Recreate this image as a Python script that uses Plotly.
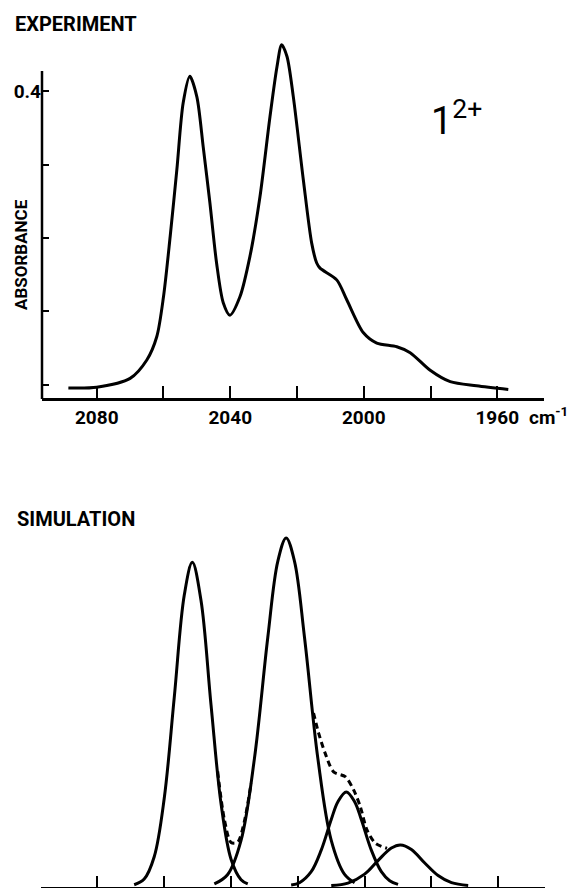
import plotly.graph_objects as go

# ---------------- data ----------------
# Experiment: wavenumber (cm^-1) and absorbance
exp_wn = [2088.5, 2080.0, 2070.0, 2065.0, 2062.0, 2060.0, 2058.0, 2056.0, 2054.1, 2052.1,
          2050.0, 2048.1, 2046.1, 2044.1, 2042.1, 2040.1, 2037.1, 2034.1, 2031.1, 2028.1,
          2026.0, 2024.6, 2023.0, 2021.1, 2018.1, 2015.6, 2014.1, 2013.1, 2008.1, 2005.1,
          2000.1, 1996.1, 1990.1, 1986.1, 1980.1, 1974.1, 1966.2, 1956.7]
exp_abs = [-0.004, -0.003, 0.009, 0.034, 0.066, 0.120, 0.202, 0.293, 0.384, 0.420,
           0.392, 0.324, 0.248, 0.166, 0.112, 0.095, 0.120, 0.175, 0.256, 0.365,
           0.433, 0.463, 0.447, 0.392, 0.279, 0.193, 0.166, 0.159, 0.143, 0.116,
           0.071, 0.057, 0.052, 0.044, 0.020, 0.0045, -0.001, -0.006]

# Simulation components (relative intensity)
sim1_wn = [2069, 2066, 2063, 2060, 2057, 2054, 2051.6, 2049, 2046, 2043, 2040, 2037, 2035]
sim1_int = [0.0034, 0.020, 0.084, 0.252, 0.542, 0.836, 0.930, 0.821, 0.521, 0.237, 0.077, 0.018, 0.0057]

sim2_wn = [2045, 2041, 2037, 2033, 2029, 2026, 2023.5, 2021, 2018, 2014, 2010, 2006, 2003]
sim2_int = [0.0058, 0.033, 0.131, 0.366, 0.714, 0.933, 1.000, 0.933, 0.714, 0.366, 0.131, 0.033, 0.0093]

sim3_wn = [2022, 2019.5, 2016, 2013, 2010, 2008, 2005.5, 2003, 2001, 1998, 1995, 1992.5, 1990]
sim3_int = [0.0025, 0.0094, 0.041, 0.103, 0.191, 0.242, 0.270, 0.242, 0.191, 0.103, 0.041, 0.015, 0.0044]

sim4_wn = [2010, 2005, 2000, 1996, 1992, 1989.3, 1986, 1982, 1978, 1974, 1969]
sim4_int = [0.0011, 0.0082, 0.034, 0.073, 0.109, 0.118, 0.105, 0.066, 0.030, 0.0094, 0.0014]

# Dashed envelope (sum), where it separates from the components
sumA_wn = [2044, 2042, 2040, 2038, 2036, 2034]
sumA_int = [0.329, 0.191, 0.125, 0.126, 0.186, 0.295]
sumB_wn = [2015.3, 2013.8, 2011.8, 2009.3, 2005.8, 2003.3, 2001.3, 1999.3, 1996.8, 1993.3]
sumB_int = [0.497, 0.440, 0.381, 0.328, 0.314, 0.276, 0.228, 0.161, 0.123, 0.108]

x_label_ticks = [2080, 2040, 2000, 1960]
x_minor_ticks = [2060, 2020, 1980]
y_label_ticks = [0.4]
y_minor_ticks = [0.3, 0.2, 0.1, 0.0]

# ---------------- figure ----------------
W, H = 571, 888
FONT = "Roboto, Liberation Sans, sans-serif"


def fx(p):
    return p / W


def fy(p):
    return 1 - p / H


fig = go.Figure()
line = dict(color="black", width=3)

fig.add_trace(go.Scatter(x=exp_wn, y=exp_abs, mode="lines", line=dict(line, shape="spline", smoothing=0.8),
                         xaxis="x", yaxis="y", hoverinfo="skip"))

for wn, it in [(sim1_wn, sim1_int), (sim2_wn, sim2_int), (sim3_wn, sim3_int), (sim4_wn, sim4_int)]:
    fig.add_trace(go.Scatter(x=wn, y=it, mode="lines", line=dict(line, shape="spline", smoothing=1.0),
                             xaxis="x2", yaxis="y2", hoverinfo="skip"))

for wn, it in [(sumA_wn, sumA_int), (sumB_wn, sumB_int)]:
    fig.add_trace(go.Scatter(x=wn, y=it, mode="lines",
                             line=dict(color="black", width=3, dash="6px,4px", shape="spline", smoothing=0.8),
                             xaxis="x2", yaxis="y2", hoverinfo="skip"))

axis_common = dict(linecolor="black", linewidth=2.5, showgrid=False, zeroline=False,
                   ticks="inside", tickcolor="black", tickwidth=2)

fig.update_layout(
    width=W, height=H, margin=dict(l=0, r=0, t=0, b=0),
    paper_bgcolor="white", plot_bgcolor="white", showlegend=False,
    xaxis=dict(axis_common, showline=True, domain=[fx(42), fx(544)], range=[2096.4, 1946.0], anchor="y",
               ticklen=12, tickvals=x_label_ticks,
               minor=dict(tickvals=x_minor_ticks, ticks="inside", ticklen=12, tickwidth=2,
                          tickcolor="black", showgrid=False),
               tickfont=dict(family=FONT, size=19, color="black", weight="bold")),
    yaxis=dict(axis_common, showline=False, domain=[fy(398), fy(40)], range=[-0.0177, 0.4694], anchor="x",
               ticklen=7, tickvals=y_label_ticks, tickformat=".1f",
               minor=dict(tickvals=y_minor_ticks, ticks="inside", ticklen=7, tickwidth=2,
                          tickcolor="black", showgrid=False),
               tickfont=dict(family=FONT, size=19, color="black", weight="bold")),
    xaxis2=dict(axis_common, showline=True, domain=[fx(41), fx(545)], range=[2096.9, 1946.0], anchor="y2",
                ticklen=11, tickvals=x_label_ticks, showticklabels=False,
                minor=dict(tickvals=x_minor_ticks, ticks="inside", ticklen=11, tickwidth=2,
                           tickcolor="black", showgrid=False)),
    yaxis2=dict(domain=[fy(887), fy(530)], range=[-0.003, 1.023], anchor="x2", visible=False),
)

# y-axis line of the experiment panel (ends below the tallest peak, as in the reference)
fig.add_shape(type="line", xref="paper", yref="paper", x0=fx(42), x1=fx(42), y0=fy(399), y1=fy(71),
              line=dict(color="black", width=2.5))

ann_font = dict(family=FONT, color="black", weight="bold")
fig.add_annotation(text="EXPERIMENT", x=fx(13), y=fy(24), xref="paper", yref="paper",
                   xanchor="left", yanchor="middle", showarrow=False, font=dict(ann_font, size=20))
fig.add_annotation(text="SIMULATION", x=fx(15), y=fy(519), xref="paper", yref="paper",
                   xanchor="left", yanchor="middle", showarrow=False, font=dict(ann_font, size=20))
fig.add_annotation(text="ABSORBANCE", x=fx(21), y=fy(255), xref="paper", yref="paper",
                   xanchor="center", yanchor="middle", textangle=-90, showarrow=False,
                   font=dict(ann_font, size=17))
fig.add_annotation(text="cm<sup>-1</sup>", x=fx(527), y=fy(417), xref="paper", yref="paper",
                   xanchor="left", yanchor="middle", showarrow=False, font=dict(ann_font, size=19))
fig.add_annotation(text="1<sup>2+</sup>", x=fx(429), y=fy(118), xref="paper", yref="paper",
                   xanchor="left", yanchor="middle", showarrow=False,
                   font=dict(family=FONT, color="black", size=38))

fig.write_html("out.html")
